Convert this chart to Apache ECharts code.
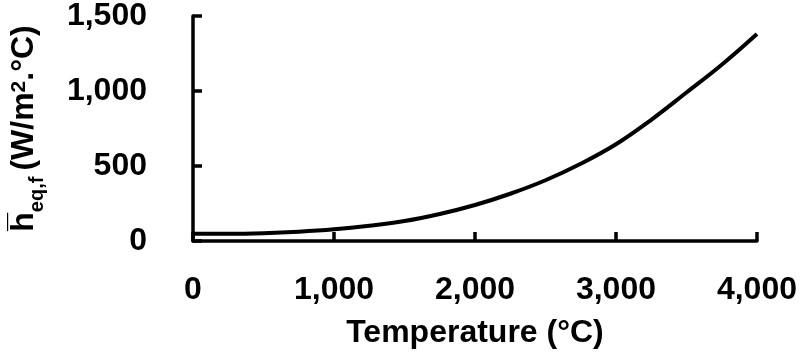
<!DOCTYPE html>
<html>
<head>
<meta charset="utf-8">
<script src="https://cdn.jsdelivr.net/npm/echarts@6/dist/echarts.min.js"></script>
<style>html,body{margin:0;padding:0;background:#fff}#c{width:800px;height:355px}</style>
</head>
<body>
<div id="c"></div>
<script>
const temperatures = [0, 250, 500, 750, 1000, 1250, 1500, 1750, 2000, 2250, 2500, 2750, 3000, 3250, 3500, 3750, 4000];
const hValues = [48, 48, 52, 62, 78, 102, 133, 180, 240, 315, 405, 515, 645, 808, 990, 1175, 1380];
const xTicks = [0, 1000, 2000, 3000, 4000];
const yTicks = [0, 500, 1000, 1500];
const xName = 'Temperature (°C)';

const FONT = 'Liberation Sans';
const chart = echarts.init(document.getElementById('c'));
const fmt = v => v.toLocaleString('en-US');
const base = { fontFamily: FONT, fontWeight: 'bold', color: '#000' };
chart.setOption({
  animation: false,
  backgroundColor: '#fff',
  grid: { left: 188, right: 43, top: 10, bottom: 114 },
  xAxis: {
    type: 'value', min: xTicks[0], max: xTicks[xTicks.length - 1], interval: 1000,
    name: xName, nameLocation: 'middle', nameGap: 76,
    nameTextStyle: Object.assign({ fontSize: 32 }, base),
    axisLine: { show: true, lineStyle: { color: '#000', width: 3.5 } },
    axisTick: { show: true, inside: true, length: 9, lineStyle: { color: '#000', width: 3.5 } },
    axisLabel: Object.assign({ margin: 33, fontSize: 32, formatter: fmt }, base),
    splitLine: { show: false }
  },
  yAxis: {
    type: 'value', min: yTicks[0], max: yTicks[yTicks.length - 1], interval: 500,
    name: '{h|h\u0305}{sub|eq,f}{n|(W/m}{sup|2}{n|.°C)}',
    nameLocation: 'middle', nameGap: 146, nameRotate: 90,
    nameTextStyle: {
      color: '#000',
      rich: {
        h: Object.assign({ fontSize: 32, verticalAlign: 'bottom', padding: [0, 0, 7, 0] }, base),
        sub: Object.assign({ fontSize: 20, verticalAlign: 'bottom', padding: [0, 6, 0, 0] }, base),
        n: Object.assign({ fontSize: 32, verticalAlign: 'bottom', padding: [0, 0, 7, 0] }, base),
        sup: Object.assign({ fontSize: 21, verticalAlign: 'bottom', padding: [0, 0, 17, 0] }, base)
      }
    },
    axisLine: { show: true, lineStyle: { color: '#000', width: 3.5 } },
    axisTick: { show: true, inside: true, length: 9, lineStyle: { color: '#000', width: 3.5 } },
    axisLabel: Object.assign({ margin: 46, fontSize: 32, formatter: fmt }, base),
    splitLine: { show: false }
  },
  series: [{
    type: 'line',
    data: temperatures.map((t, i) => [t, hValues[i]]),
    smooth: 0.4,
    showSymbol: false,
    lineStyle: { color: '#000', width: 4 }
  }]
});
</script>
</body>
</html>
